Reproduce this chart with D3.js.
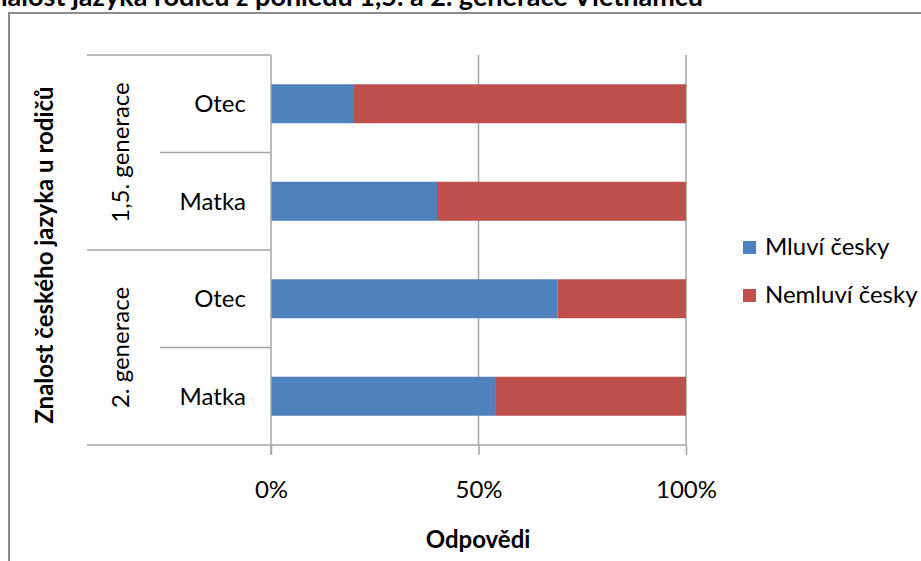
<!DOCTYPE html>
<html>
<head>
<meta charset="utf-8">
<script src="https://cdn.jsdelivr.net/npm/d3@7"></script>
<style>
  html, body { margin: 0; padding: 0; background: #fff; }
  svg { display: block; font-family: Lato, "Open Sans", sans-serif; }
</style>
</head>
<body>
<svg id="chart" width="921" height="561"></svg>
<script>
// Data: share of parents who speak Czech, by generation and parent
const generations = ["1,5. generace", "2. generace"];
const parents = ["Otec", "Matka"];
const speaksCzech = [20, 40, 69, 54];      // Mluví česky (%)
const notSpeakCzech = [80, 60, 31, 46];    // Nemluví česky (%)
const seriesNames = ["Mluví česky", "Nemluví česky"];
const seriesColors = ["#4f81bd", "#c0504d"];
const xTicks = [0, 50, 100];

const rows = [];
generations.forEach((g, gi) => parents.forEach((p, pi) => {
  const i = gi * parents.length + pi;
  rows.push({ key: g + "|" + p, gen: g, parent: p, values: [speaksCzech[i], notSpeakCzech[i]] });
}));

const FS = 24;
const svg = d3.select("#chart");
const plot = { left: 271, right: 686, top: 55, bottom: 445 };

// Outer chart frame
svg.append("rect")
  .attr("x", 9).attr("y", 13).attr("width", 940).attr("height", 600)
  .attr("fill", "none").attr("stroke", "#8c8c8c").attr("stroke-width", 2);

// Title (runs past the top-left edge)
svg.append("text")
  .attr("x", 703).attr("y", 6)
  .attr("text-anchor", "end")
  .attr("font-size", 27).attr("font-weight", "bold").attr("fill", "#000")
  .text("Znalost jazyka rodičů z pohledu 1,5. a 2. generace Vietnamců");

const x = d3.scaleLinear().domain([0, 100]).range([plot.left, plot.right]);
const y = d3.scaleBand().domain(rows.map(r => r.key)).range([plot.top, plot.bottom]).paddingInner(0.6).paddingOuter(0.3);
const yBand = d3.scaleBand().domain(rows.map(r => r.key)).range([plot.top, plot.bottom]);
const yGen = d3.scaleBand().domain(generations).range([plot.top, plot.bottom]);

const gridColor = "#a6a6a6";

// Vertical gridlines
svg.append("g").selectAll("line").data(xTicks.filter(t => t > 0)).join("line")
  .attr("x1", d => x(d)).attr("x2", d => x(d))
  .attr("y1", plot.top).attr("y2", plot.bottom)
  .attr("stroke", gridColor).attr("stroke-width", 1.5);

// Stacked bars
const stack = d3.stack().keys([0, 1]).value((d, k) => d.values[k]);
const layers = stack(rows);
svg.append("g").selectAll("g").data(layers).join("g")
  .attr("fill", (d, i) => seriesColors[i])
  .selectAll("rect").data(d => d).join("rect")
  .attr("x", d => x(d[0]))
  .attr("width", d => x(d[1]) - x(d[0]))
  .attr("y", d => y(d.data.key))
  .attr("height", y.bandwidth());

// X axis ticks and labels
const xAxis = svg.append("g").attr("transform", `translate(0,${plot.bottom})`)
  .call(d3.axisBottom(x).tickValues(xTicks).tickSize(10).tickFormat(d => d + "%"));
xAxis.select(".domain").remove();
xAxis.selectAll(".tick line").attr("stroke", gridColor).attr("stroke-width", 1.5);
xAxis.selectAll(".tick text")
  .attr("y", 0).attr("dy", "53px")
  .attr("font-family", "Lato, 'Open Sans', sans-serif")
  .attr("font-size", FS).attr("fill", "#000");

// Bottom axis line spanning category area and plot
svg.append("line")
  .attr("x1", 87).attr("x2", plot.right)
  .attr("y1", plot.bottom).attr("y2", plot.bottom)
  .attr("stroke", gridColor).attr("stroke-width", 1.5);

// Vertical category axis
svg.append("line")
  .attr("x1", plot.left).attr("x2", plot.left)
  .attr("y1", plot.top).attr("y2", plot.bottom + 10)
  .attr("stroke", gridColor).attr("stroke-width", 1.5);

// Generation dividers
svg.append("g").selectAll("line").data(generations).join("line")
  .attr("x1", 87).attr("x2", plot.left)
  .attr("y1", d => yGen(d)).attr("y2", d => yGen(d))
  .attr("stroke", gridColor).attr("stroke-width", 1.5);

// Parent dividers inside each generation
svg.append("g").selectAll("line").data(generations).join("line")
  .attr("x1", 160).attr("x2", plot.left)
  .attr("y1", d => yGen(d) + yGen.bandwidth() / 2).attr("y2", d => yGen(d) + yGen.bandwidth() / 2)
  .attr("stroke", gridColor).attr("stroke-width", 1.5);

// Parent labels
svg.append("g").selectAll("text").data(rows).join("text")
  .attr("x", 246)
  .attr("y", d => yBand(d.key) + yBand.bandwidth() / 2)
  .attr("dy", "0.35em")
  .attr("text-anchor", "end")
  .attr("font-size", FS).attr("fill", "#000")
  .text(d => d.parent);

// Generation labels (rotated)
svg.append("g").selectAll("text").data(generations).join("text")
  .attr("transform", d => `translate(121,${yGen(d) + yGen.bandwidth() / 2}) rotate(-90)`)
  .attr("dy", "0.35em")
  .attr("text-anchor", "middle")
  .attr("font-size", FS).attr("fill", "#000")
  .text(d => d);

// Axis titles
svg.append("text")
  .attr("transform", `translate(45,255) rotate(-90)`)
  .attr("dy", "0.35em")
  .attr("text-anchor", "middle")
  .attr("font-size", FS).attr("font-weight", "bold").attr("fill", "#000")
  .text("Znalost českého jazyka u rodičů");

svg.append("text")
  .attr("x", 478).attr("y", 540)
  .attr("dy", "0.35em")
  .attr("text-anchor", "middle")
  .attr("font-size", FS).attr("font-weight", "bold").attr("fill", "#000")
  .text("Odpovědi");

// Legend
const legend = svg.append("g").selectAll("g").data(seriesNames).join("g")
  .attr("transform", (d, i) => `translate(743,${247 + i * 48})`);
legend.append("rect")
  .attr("x", 0).attr("y", -6).attr("width", 13).attr("height", 13)
  .attr("fill", (d, i) => seriesColors[i]);
legend.append("text")
  .attr("x", 22).attr("y", 0).attr("dy", "0.35em")
  .attr("font-size", FS).attr("fill", "#000")
  .text(d => d);
</script>
</body>
</html>
